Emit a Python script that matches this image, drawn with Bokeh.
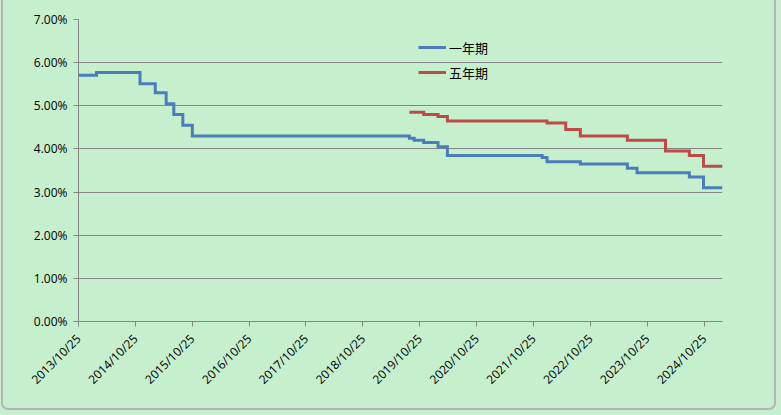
from datetime import datetime
from bokeh.plotting import figure
from bokeh.models import (FixedTicker, PrintfTickFormatter, Legend, LegendItem,
                          Range1d, GlobalInlineStyleSheet)
from bokeh.embed import file_html
from bokeh.resources import INLINE

# ---- data ----
one_year_dates = ["2013-10-25", "2014-02-18", "2014-11-24", "2015-03-02", "2015-05-11",
                  "2015-06-29", "2015-08-26", "2015-10-26", "2019-08-20", "2019-09-20",
                  "2019-11-20", "2020-02-20", "2020-04-20", "2021-12-20", "2022-01-20",
                  "2022-08-22", "2023-06-20", "2023-08-21", "2024-07-22", "2024-10-21",
                  "2025-02-20"]
one_year_rates = [5.71, 5.77, 5.51, 5.30, 5.05,
                  4.80, 4.55, 4.30, 4.25, 4.20,
                  4.15, 4.05, 3.85, 3.80, 3.70,
                  3.65, 3.55, 3.45, 3.35, 3.10,
                  3.10]

five_year_dates = ["2019-08-20", "2019-11-20", "2020-02-20", "2020-04-20", "2022-01-20",
                   "2022-05-20", "2022-08-22", "2023-06-20", "2024-02-20", "2024-07-22",
                   "2024-10-21", "2025-02-20"]
five_year_rates = [4.85, 4.80, 4.75, 4.65, 4.60,
                   4.45, 4.30, 4.20, 3.95, 3.85,
                   3.60, 3.60]

tick_dates = ["2013-10-25", "2014-10-25", "2015-10-25", "2016-10-25", "2017-10-25",
              "2018-10-25", "2019-10-25", "2020-10-25", "2021-10-25", "2022-10-25",
              "2023-10-25", "2024-10-25"]
tick_labels = ["2013/10/25", "2014/10/25", "2015/10/25", "2016/10/25", "2017/10/25",
               "2018/10/25", "2019/10/25", "2020/10/25", "2021/10/25", "2022/10/25",
               "2023/10/25", "2024/10/25"]
y_ticks = [0, 1, 2, 3, 4, 5, 6, 7]
series_names = ["一年期", "五年期"]


def to_ms(s):
    d = datetime.strptime(s, "%Y-%m-%d")
    return int((d - datetime(1970, 1, 1)).total_seconds() * 1000)


BG = "#C6EFCE"
GRID = "#868686"
BLUE = "#4A7EBB"
RED = "#BE4B48"
FONT = "Open Sans"

p = figure(width=765, height=399, x_axis_type="datetime",
           output_backend="svg", toolbar_location=None,
           min_border_left=78, min_border_right=43,
           min_border_top=19, min_border_bottom=78)
p.x_range = Range1d(to_ms(one_year_dates[0]), to_ms(one_year_dates[-1]))
p.y_range = Range1d(0, 7)

p.background_fill_color = BG
p.border_fill_color = BG
p.outline_line_color = None
p.stylesheets = [GlobalInlineStyleSheet(css=(
    "body{background:%s;}"
    "body::after{content:'';position:fixed;left:1px;top:-10px;width:775px;height:420px;"
    "border:2px solid #B4B4B4;border-radius:7px;pointer-events:none;box-sizing:border-box;}"
) % BG)]

x1 = [to_ms(d) for d in one_year_dates]
x5 = [to_ms(d) for d in five_year_dates]
r1 = p.step(x1, one_year_rates, mode="after", line_width=3, line_color=BLUE,
            line_join="miter")
r5 = p.step(x5, five_year_rates, mode="after", line_width=3, line_color=RED,
            line_join="miter")

# axes
xa = p.xaxis[0]
xa.ticker = FixedTicker(ticks=[to_ms(d) for d in tick_dates])
xa.major_label_overrides = {to_ms(d): lab for d, lab in zip(tick_dates, tick_labels)}
xa.major_label_orientation = 0.785398
xa.minor_tick_line_color = None
xa.major_tick_in = 0
xa.major_tick_out = 5
xa.axis_line_color = GRID
xa.major_tick_line_color = GRID
xa.major_label_text_font = FONT
xa.major_label_text_font_size = "12px"
xa.major_label_text_color = "#000000"
xa.major_label_standoff = 10

ya = p.yaxis[0]
ya.ticker = FixedTicker(ticks=y_ticks)
ya.formatter = PrintfTickFormatter(format="%.2f%%")
ya.minor_tick_line_color = None
ya.major_tick_in = 0
ya.major_tick_out = 5
ya.axis_line_color = GRID
ya.major_tick_line_color = GRID
ya.major_label_text_font = FONT
ya.major_label_text_font_size = "12px"
ya.major_label_text_color = "#000000"
ya.major_label_standoff = 6

p.xgrid.grid_line_color = None
p.ygrid.grid_line_color = GRID
p.ygrid.grid_line_width = 1
p.ygrid.ticker = FixedTicker(ticks=y_ticks[1:])

legend = Legend(items=[LegendItem(label=series_names[0], renderers=[r1]),
                       LegendItem(label=series_names[1], renderers=[r5])],
                location=(340, 239), orientation="vertical",
                background_fill_alpha=0, border_line_alpha=0,
                padding=0, margin=0, spacing=5,
                glyph_width=28, glyph_height=20, label_height=20,
                label_standoff=3,
                label_text_font="Noto Sans CJK SC",
                label_text_font_size="13px", label_text_color="#000000")
p.add_layout(legend)

open("out.html", "w").write(file_html(p, INLINE))
